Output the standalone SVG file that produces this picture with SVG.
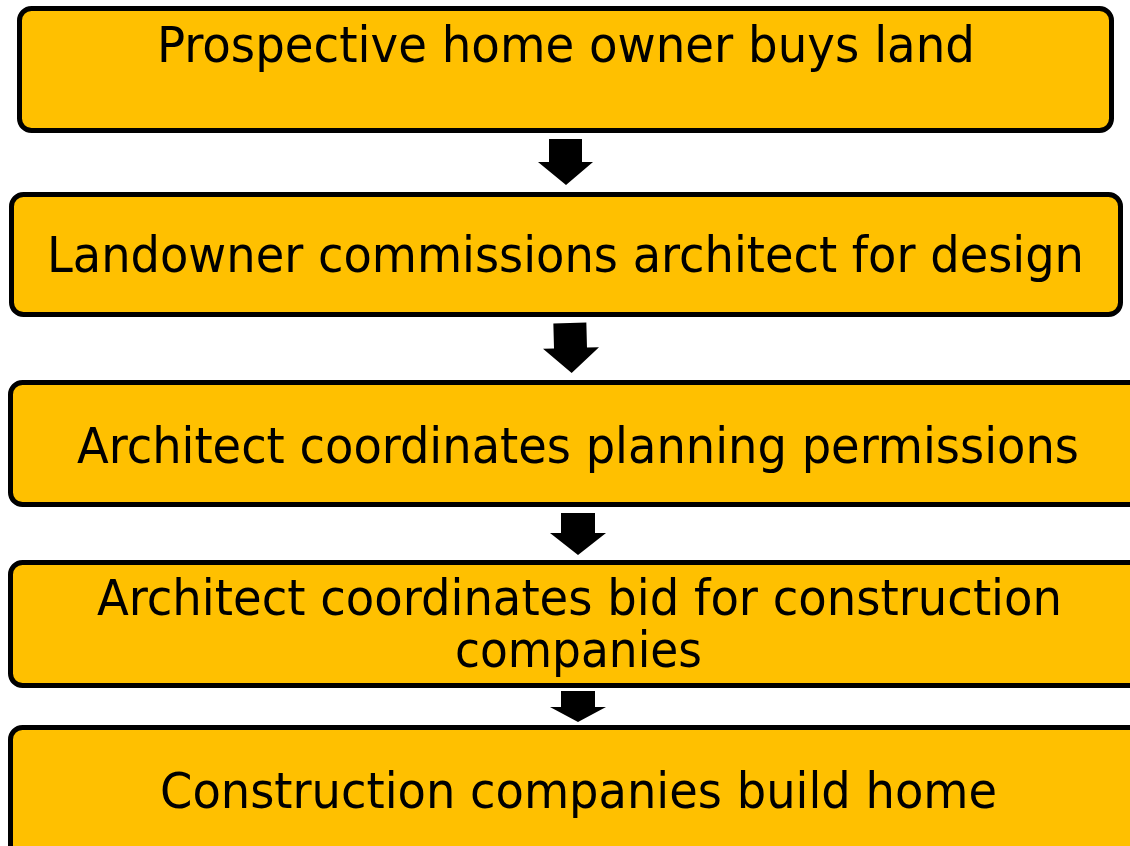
<svg xmlns="http://www.w3.org/2000/svg" width="1130" height="846" viewBox="0 0 1130 846">
  <style>
    .box { fill: #FFC000; stroke: #000000; stroke-width: 5; }
    .label { font-family: "DejaVu Sans Condensed", "DejaVu Sans", Verdana, sans-serif; font-size: 50px; fill: #000000; text-anchor: middle; }
    .arrow { fill: #000000; stroke: none; }
  </style>
  <rect width="1130" height="846" fill="#FFFFFF"/>

  <g id="step-buy-land">
    <rect class="box" x="19.5" y="8.5" width="1092" height="122" rx="12"/>
    <text class="label" x="566" y="62" textLength="818" lengthAdjust="spacingAndGlyphs">Prospective home owner buys land</text>
  </g>

  <g id="step-commission-architect">
    <rect class="box" x="11.5" y="194.5" width="1109" height="120" rx="12"/>
    <text class="label" x="565.5" y="272" textLength="1037" lengthAdjust="spacingAndGlyphs">Landowner commissions architect for design</text>
  </g>

  <g id="step-planning">
    <rect class="box" x="10.5" y="382.5" width="1140" height="122" rx="12"/>
    <text class="label" x="578" y="463" textLength="1002" lengthAdjust="spacingAndGlyphs">Architect coordinates planning permissions</text>
  </g>

  <g id="step-bidding">
    <rect class="box" x="10.5" y="562.5" width="1140" height="123" rx="12"/>
    <!-- two-line label, tight line spacing -->
    <text class="label" x="579.5" y="615" textLength="965" lengthAdjust="spacingAndGlyphs">Architect coordinates bid for construction</text>
    <text class="label" x="578.5" y="667" textLength="247" lengthAdjust="spacingAndGlyphs">companies</text>
  </g>

  <g id="step-build">
    <rect class="box" x="10.5" y="727.5" width="1140" height="140" rx="12"/>
    <text class="label" x="578.5" y="808" textLength="837" lengthAdjust="spacingAndGlyphs">Construction companies build home</text>
  </g>

  <g id="connectors">
    <polygon class="arrow" points="549,139 582,139 582,162 593,162 566,185 538,162 549,162"/>
    <polygon class="arrow" transform="rotate(-1.5 571 348)" points="554,323 587,323 587,348 599,348 571,373 543,348 554,348"/>
    <polygon class="arrow" points="561,513 595,513 595,533 606,533 578,555 550,533 561,533"/>
    <polygon class="arrow" points="561,691 595,691 595,707 606,707 578,722 550,707 561,707"/>
  </g>
</svg>
